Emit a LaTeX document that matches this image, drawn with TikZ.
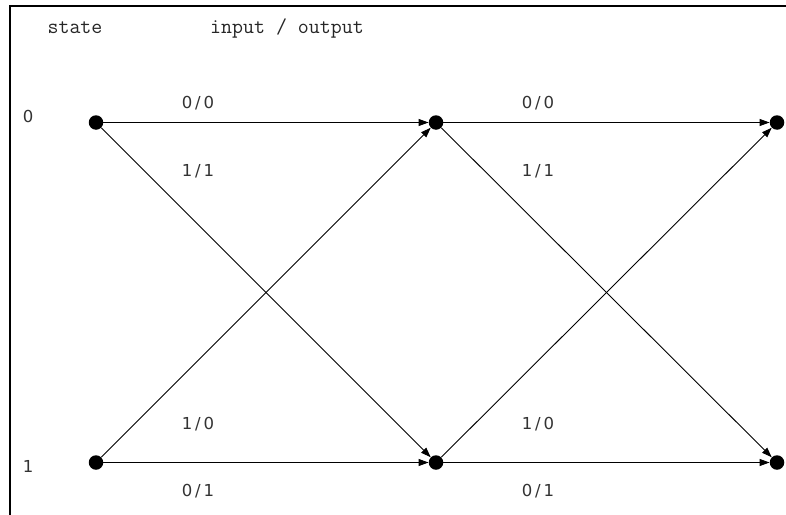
\documentclass[tikz,border=0pt]{standalone}
\usepackage{fontspec}
\newfontfamily\numf[LetterSpace=18]{DejaVu Sans}
\newfontfamily\statef{DejaVu Sans}
\usetikzlibrary{arrows.meta}
\tikzset{
  dot/.style={circle,fill=black,inner sep=0pt,minimum size=14.5pt},
  trans/.style={draw=black,line width=0.9pt,-{Triangle[length=10pt,width=7pt]}},
  lab/.style={font=\numf\fontsize{16.5}{19}\selectfont,text=black!80,inner sep=0pt},
  slab/.style={font=\statef\fontsize{16.5}{19}\selectfont,text=black!80,inner sep=0pt},
  head/.style={font=\ttfamily\fontsize{21.3}{25}\selectfont,text=black!85,inner sep=0pt},
}
\begin{document}
\begin{tikzpicture}[x=1pt,y=-1pt]
\useasboundingbox (0,0) rectangle (786,514);
\fill[white] (0,0) rectangle (786,514);
\draw[line width=2pt] (10,520) -- (10,6) -- (790,6);
\node[head] (hs) at (75,28) {state};
\node[head] (hio) at (287,28) {input / output};
\node[slab] (s0) at (28,116.5) {0};
\node[slab] (s1) at (28,466.5) {1};
\node[dot] (a0) at (96,122.5) {};
\node[dot] (b0) at (436,122.5) {};
\node[dot] (c0) at (777,122.5) {};
\node[dot] (a1) at (96,462.5) {};
\node[dot] (b1) at (436,462.5) {};
\node[dot] (c1) at (777,462.5) {};
\draw[trans] (a0) -- (b0);
\draw[trans] (a0) -- (b1);
\draw[trans] (a1) -- (b0);
\draw[trans] (a1) -- (b1);
\draw[trans] (b0) -- (c0);
\draw[trans] (b0) -- (c1);
\draw[trans] (b1) -- (c0);
\draw[trans] (b1) -- (c1);
\node[lab] (l1) at (198,103) {0/0};
\node[lab] (l2) at (198,171) {1/1};
\node[lab] (l3) at (198,424) {1/0};
\node[lab] (l4) at (198,491) {0/1};
\node[lab] (l5) at (538,103) {0/0};
\node[lab] (l6) at (538,171) {1/1};
\node[lab] (l7) at (538,424) {1/0};
\node[lab] (l8) at (538,491) {0/1};
\end{tikzpicture}
\end{document}
